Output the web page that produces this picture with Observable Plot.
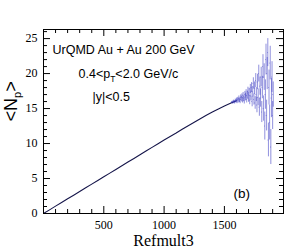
<!DOCTYPE html>
<html>
<head>
<meta charset="utf-8">
<script src="https://cdn.jsdelivr.net/npm/d3@7"></script>
<script src="https://cdn.jsdelivr.net/npm/@observablehq/plot@0.6"></script>
<style>
  html, body { margin: 0; padding: 0; background: #fff; }
  #chart { width: 291px; height: 251px; }
</style>
</head>
<body>
<div id="chart"></div>
<script>
// ---- data ----
const refmult = [0,50,100,150,200,250,300,350,400,450,500,550,600,650,700,750,800,850,900,950,1000,1050,1100,1150,1200,1250,1300,1350,1400,1450,1500,1550,1600];
const meanNp  = [0,0.52,1.05,1.57,2.1,2.62,3.15,3.67,4.2,4.72,5.25,5.77,6.3,6.82,7.35,7.87,8.4,8.92,9.45,9.97,10.5,11.0,11.5,12.05,12.55,13.05,13.55,14.05,14.5,14.95,15.35,15.75,16.1];

const tailRefmult = [1560,1565,1570,1575,1580,1585,1590,1595,1600,1605,1610,1615,1620,1625,1630,1635,1640,1645,1650,1655,1660,1665,1670,1675,1680,1685,1690,1695,1700,1705,1710,1715,1720,1725,1730,1735,1740,1745,1750,1755,1760,1765,1770,1775,1780,1785,1790,1795,1800,1805,1810,1815,1820,1825,1830,1835,1840,1845,1850,1855,1860,1865,1870,1875,1880,1885,1890,1895,1900,1905];
const tailNp      = [15.85,15.95,15.8,16.05,15.95,15.85,16.15,16.0,16.25,15.95,16.35,16.1,16.5,16.2,16.0,16.6,16.3,16.75,16.2,16.9,16.4,16.1,17.0,16.6,17.2,16.3,16.9,17.5,16.5,17.3,16.2,17.8,16.8,18.0,16.0,17.4,18.6,16.3,17.9,15.8,19.0,17.0,15.5,18.8,16.6,20.0,15.2,18.2,16.5,19.5,14.5,18.0,21.0,15.0,19.5,12.5,17.0,22.0,14.0,20.0,23.0,10.5,18.0,13.0,21.5,9.5,16.5,19.5,14.0,17.0];
const tailErr     = [0.1,0.1,0.15,0.15,0.15,0.2,0.2,0.2,0.25,0.25,0.25,0.3,0.3,0.3,0.3,0.35,0.35,0.35,0.4,0.4,0.4,0.45,0.45,0.5,0.5,0.5,0.55,0.55,0.6,0.6,0.65,0.65,0.7,0.7,0.75,0.75,0.8,0.8,0.9,0.9,1.0,1.0,1.1,1.1,1.2,1.2,1.3,1.3,1.3,1.4,1.5,1.6,1.7,1.8,1.9,2.0,2.1,2.2,2.2,2.3,2.0,2.4,2.5,2.5,2.4,2.5,2.8,2.2,2.0,1.8];

const xMajorTicks = [500,1000,1500];
const xMinorTicks = [100,200,300,400,600,700,800,900,1100,1200,1300,1400,1600,1700,1800,1900];
const yMajorTicks = [0,5,10,15,20,25];
const yMinorTicks = [1,2,3,4,6,7,8,9,11,12,13,14,16,17,18,19,21,22,23,24,26];

const xTitle = "Refmult3";
const yTitle = "<Np>";
const infoLines = ["UrQMD Au + Au 200 GeV", "0.4<pT<2.0 GeV/c", "|y|<0.5"];
const panelTag = "(b)";

// ---- build ----
const W = 291, H = 251;
const mL = 43, mR = 8, mT = 29, mB = 38;
const innerW = W - mL - mR, innerH = H - mT - mB;

const main = refmult.map((x, i) => ({x, y: meanNp[i]}));
const tail = tailRefmult.map((x, i) => ({x, y: tailNp[i], e: tailErr[i]}));

const serif = "'Liberation Serif', 'Times New Roman', serif";
const sans = "'Liberation Sans', Arial, Helvetica, sans-serif";

const chart = Plot.plot({
  width: W, height: H,
  marginLeft: mL, marginRight: mR, marginTop: mT, marginBottom: mB,
  style: {background: "#fff", color: "#000", overflow: "visible"},
  x: {domain: [0, 1990]},
  y: {domain: [0, 26.3]},
  marks: [
    // data
    Plot.line(main, {x: "x", y: "y", stroke: "#15154a", strokeWidth: 1.1}),
    Plot.ruleX(tail, {x: "x", y1: d => d.y - d.e, y2: d => d.y + d.e, stroke: "#3434c0", strokeWidth: 0.55}),
    Plot.ruleY(tail, {y: "y", x1: d => d.x - 2.5, x2: d => d.x + 2.5, stroke: "#3434c0", strokeWidth: 0.6}),
    // ticks (inward, ROOT style)
    Plot.ruleX(xMajorTicks, {x: d => d, insetTop: innerH - 7, stroke: "#000"}),
    Plot.ruleX(xMajorTicks, {x: d => d, insetBottom: innerH - 7, stroke: "#000"}),
    Plot.ruleX(xMinorTicks, {x: d => d, insetTop: innerH - 4, stroke: "#000"}),
    Plot.ruleX(xMinorTicks, {x: d => d, insetBottom: innerH - 4, stroke: "#000"}),
    Plot.ruleY(yMajorTicks, {y: d => d, insetRight: innerW - 7, stroke: "#000"}),
    Plot.ruleY(yMajorTicks, {y: d => d, insetLeft: innerW - 7, stroke: "#000"}),
    Plot.ruleY(yMinorTicks, {y: d => d, insetRight: innerW - 4, stroke: "#000"}),
    Plot.ruleY(yMinorTicks, {y: d => d, insetLeft: innerW - 4, stroke: "#000"}),
    Plot.frame({stroke: "#000", strokeWidth: 1}),
    // axes labels
    Plot.axisX(xMajorTicks, {tickSize: 0, tickPadding: 7, label: null, fontFamily: serif, fontSize: 12, tickFormat: d => String(d)}),
    Plot.axisY(yMajorTicks, {tickSize: 0, tickPadding: 6, label: null, fontFamily: serif, fontSize: 12, tickFormat: d => String(d)}),
    // titles
    Plot.text([xTitle], {text: d => d, frameAnchor: "bottom", lineAnchor: "bottom", dy: 32, fontFamily: serif, fontSize: 16}),
    Plot.text([yTitle], {text: d => d, frameAnchor: "left", lineAnchor: "bottom", rotate: -90, dx: -27, fontFamily: sans, fontSize: 18}),
    // annotation
    Plot.text([infoLines[0]], {text: d => d, frameAnchor: "top-left", textAnchor: "start", lineAnchor: "bottom", dx: 9, dy: 24, fontFamily: sans, fontSize: 12.5}),
    Plot.text([infoLines[1]], {text: d => d, frameAnchor: "top-left", textAnchor: "start", lineAnchor: "bottom", dx: 35, dy: 48, fontFamily: sans, fontSize: 12.5}),
    Plot.text([infoLines[2]], {text: d => d, frameAnchor: "top-left", textAnchor: "start", lineAnchor: "bottom", dx: 49, dy: 71, fontFamily: sans, fontSize: 12.5}),
    Plot.text([panelTag], {text: d => d, frameAnchor: "top-left", textAnchor: "start", lineAnchor: "bottom", dx: 190, dy: 168, fontFamily: sans, fontSize: 13.5})
  ]
});

// subscripts
d3.select(chart).selectAll("text").each(function() {
  const t = this.textContent;
  const sel = d3.select(this);
  if (t === yTitle) {
    sel.text(null);
    sel.append("tspan").text("<N");
    sel.append("tspan").attr("dy", 4).attr("font-size", 11).text("p");
    sel.append("tspan").attr("dy", -4).text(">");
  } else if (t === infoLines[1]) {
    sel.text(null);
    sel.append("tspan").text("0.4<p");
    sel.append("tspan").attr("dy", 4).attr("font-size", 8.5).text("T");
    sel.append("tspan").attr("dy", -4).text("<2.0 GeV/c");
  }
});

document.getElementById("chart").appendChild(chart);
</script>
</body>
</html>
